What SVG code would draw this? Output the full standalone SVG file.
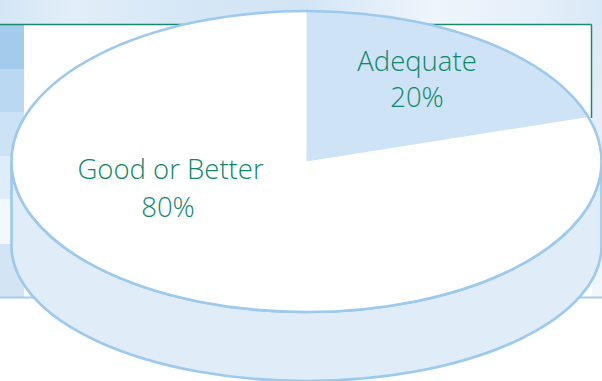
<svg xmlns="http://www.w3.org/2000/svg" width="602" height="381" viewBox="0 0 602 381">
  <defs>
    <linearGradient id="band" x1="0" y1="0" x2="1" y2="0">
      <stop offset="0" stop-color="#d4e6f5"/>
      <stop offset="0.12" stop-color="#e2eef9"/>
      <stop offset="0.3" stop-color="#d6e7f6"/>
      <stop offset="0.5" stop-color="#d2e5f5"/>
      <stop offset="0.72" stop-color="#eef5fc"/>
      <stop offset="0.88" stop-color="#e6f0fa"/>
      <stop offset="1" stop-color="#d8e8f6"/>
    </linearGradient>
    <linearGradient id="rightstrip" x1="0" y1="0" x2="0" y2="1">
      <stop offset="0" stop-color="#dbe9f7"/>
      <stop offset="1" stop-color="#f2f7fd"/>
    </linearGradient>
  </defs>
  <style>
    .outline { stroke: #9cc9ec; stroke-width: 2.6; }
    .label { font-family: "Open Sans", "Noto Sans", "Liberation Sans", sans-serif; font-weight: 300; font-size: 27.5px; fill: #0d8868; text-anchor: middle; }
  </style>

  <g id="background">
    <rect x="0" y="0" width="602" height="381" fill="#ffffff"/>
    <rect x="0" y="0" width="602" height="25" fill="url(#band)"/>
    <rect x="592" y="25" width="10" height="272" fill="url(#rightstrip)"/>
    <rect x="0" y="25" width="24" height="44" fill="#a3cbec"/>
    <rect x="0" y="69" width="24" height="43" fill="#bad8f1"/>
    <rect x="0" y="112" width="24" height="44" fill="#cce2f5"/>
    <rect x="0" y="156" width="24" height="43" fill="#deedf9"/>
    <rect x="0" y="199" width="24" height="45" fill="#f2f8fd"/>
    <rect x="0" y="244" width="24" height="53" fill="#d3e5f5"/>
    <line x1="0" y1="24.5" x2="591.5" y2="24.5" stroke="#1a8a6e" stroke-width="1.5"/>
    <line x1="591.5" y1="24.5" x2="591.5" y2="118" stroke="#1a8a6e" stroke-width="1.5"/>
    <line x1="0" y1="297.5" x2="602" y2="297.5" stroke="#a6cdee" stroke-width="2"/>
  </g>

  <g id="pie-side">
    <path class="outline" fill="#e0edf9" d="M11.5,161.5 L11.5,246 A295,135 0 0 0 601.5,246 L601.5,161.5 A295,150.5 0 0 1 11.5,161.5 Z"/>
  </g>

  <g id="slice-good">
    <ellipse cx="306.5" cy="161.5" rx="295" ry="150.5" fill="#ffffff"/>
  </g>

  <g id="slice-adequate">
    <path fill="#cee3f5" d="M306.5,161.5 L306.5,11 A295,150.5 0 0 1 588.3,117 Z"/>
  </g>

  <g id="pie-outline">
    <ellipse class="outline" cx="306.5" cy="161.5" rx="295" ry="150.5" fill="none"/>
  </g>

  <g id="labels">
    <text class="label" x="417" y="71">Adequate</text>
    <text class="label" x="417" y="107">20%</text>
    <text class="label" x="170.5" y="179">Good or Better</text>
    <text class="label" x="168" y="217">80%</text>
  </g>
</svg>
